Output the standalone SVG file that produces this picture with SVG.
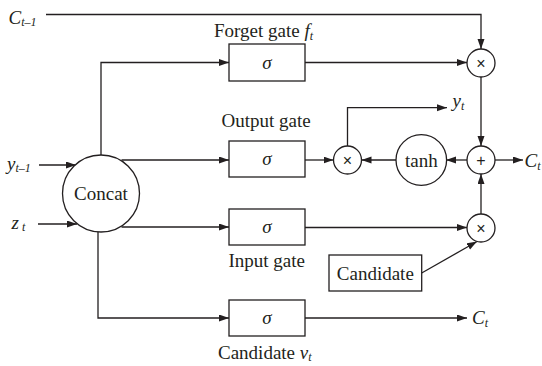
<svg xmlns="http://www.w3.org/2000/svg" width="542" height="366" viewBox="0 0 542 366">
<defs>
<marker id="ah" markerUnits="userSpaceOnUse" markerWidth="11" markerHeight="8" refX="10" refY="3.5" orient="auto">
<path d="M0,0 L10,3.5 L0,7 z" fill="#231f20"/>
</marker>
<style>
.ln{fill:none;stroke:#231f20;stroke-width:1.3}
.ar{fill:none;stroke:#231f20;stroke-width:1.3;marker-end:url(#ah)}
.bx{fill:#fff;stroke:#231f20;stroke-width:1.3}
.t{font-family:"Liberation Serif","Times New Roman",serif;font-size:19px;fill:#231f20}
.i{font-family:"Liberation Serif","Times New Roman",serif;font-size:19px;font-style:italic;fill:#231f20}
.s{font-family:"Liberation Serif","Times New Roman",serif;font-size:12px;fill:#231f20}
.op{font-family:"Liberation Sans",Arial,sans-serif;font-size:16px;fill:#231f20;text-anchor:middle}
.m{text-anchor:middle}
</style>
</defs>
<rect width="542" height="366" fill="#fff"/>
<g id="connectors">
<path class="ar" d="M46,14.5 H481 V49"/>
<path class="ar" d="M101,155 V62.5 H229"/>
<path class="ar" d="M305,62.5 H467"/>
<path class="ar" d="M39,165 H76"/>
<path class="ar" d="M38,224 H77"/>
<path class="ar" d="M121.5,160 H229"/>
<path class="ar" d="M121.5,227 H229"/>
<path class="ar" d="M98,232 V318 H229"/>
<path class="ar" d="M305,160 H333.5"/>
<path class="ar" d="M396,160 H361.5"/>
<path class="ar" d="M467,160 H446"/>
<path class="ar" d="M495,160 H523"/>
<path class="ar" d="M481,77 V146"/>
<path class="ar" d="M481,214 V174"/>
<path class="ar" d="M347.5,146 V107.7 H447"/>
<path class="ar" d="M305,227.5 H467"/>
<path class="ar" d="M421.7,273 L477,241.5"/>
<path class="ar" d="M305,318 H467"/>
</g>
<g id="concat">
<circle class="bx" cx="101" cy="193.5" r="38.5"/>
<text class="t m" x="101" y="200">Concat</text>
</g>
<g id="forget-gate">
<rect class="bx" x="229" y="44" width="76" height="37"/>
<text class="i m" x="267" y="68.5">σ</text>
<text class="t" x="214" y="36.5">Forget gate <tspan class="i">f</tspan><tspan class="s" font-style="italic" dy="3">t</tspan></text>
</g>
<g id="output-gate">
<rect class="bx" x="229" y="141" width="76" height="36"/>
<text class="i m" x="267" y="165">σ</text>
<text class="t" x="221.5" y="126.7">Output gate</text>
</g>
<g id="input-gate">
<rect class="bx" x="229" y="209" width="76" height="36"/>
<text class="i m" x="267" y="233">σ</text>
<text class="t" x="228.5" y="266.5">Input gate</text>
</g>
<g id="candidate-gate">
<rect class="bx" x="229" y="300" width="76" height="36"/>
<text class="i m" x="267" y="324">σ</text>
<text class="t" x="218" y="358.5">Candidate <tspan class="i">v</tspan><tspan class="s" font-style="italic" dy="2.5">t</tspan></text>
</g>
<g id="candidate">
<rect class="bx" x="329" y="255" width="92.7" height="36"/>
<text class="t m" x="375.3" y="279.5">Candidate</text>
</g>
<g id="mul-forget">
<circle class="bx" cx="481" cy="63" r="14"/>
<text class="op" x="481" y="68.5">×</text>
</g>
<g id="add">
<circle class="bx" cx="481" cy="160" r="14"/>
<text class="op" x="481" y="165.5">+</text>
</g>
<g id="mul-input">
<circle class="bx" cx="481" cy="228" r="14"/>
<text class="op" x="481" y="233.5">×</text>
</g>
<g id="tanh">
<circle class="bx" cx="421.3" cy="160" r="25.3"/>
<text class="t m" x="421.3" y="166.5">tanh</text>
</g>
<g id="mul-output">
<circle class="bx" cx="347.5" cy="160" r="14"/>
<text class="op" x="347.5" y="165.5">×</text>
</g>
<g id="labels">
<text class="i" x="8.5" y="24">C<tspan class="s" dy="2"><tspan font-style="italic">t</tspan>–1</tspan></text>
<text class="i" x="7" y="170">y<tspan class="s" dy="2"><tspan font-style="italic">t</tspan>–1</tspan></text>
<text class="i" x="11.5" y="228.5">z<tspan class="s" dy="2" font-style="italic"> t</tspan></text>
<text class="i" x="452.5" y="107">y<tspan class="s" font-style="italic" dy="3">t</tspan></text>
<text class="i" x="524.5" y="167">C<tspan class="s" font-style="italic" dy="3">t</tspan></text>
<text class="i" x="472" y="323.5">C<tspan class="s" font-style="italic" dy="3">t</tspan></text>
</g>
</svg>
